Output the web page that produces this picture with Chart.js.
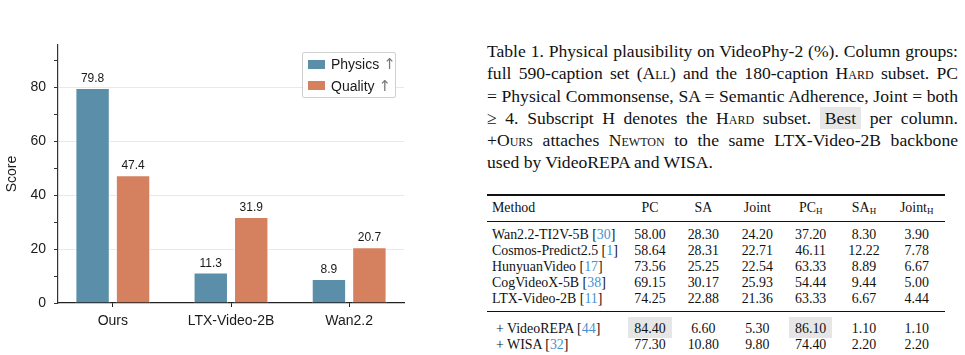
<!DOCTYPE html>
<html>
<head>
<meta charset="utf-8">
<script src="https://cdn.jsdelivr.net/npm/chart.js@4.4.1/dist/chart.umd.min.js"></script>
<style>
  body { margin: 0; background: #fff; width: 965px; height: 355px; position: relative; overflow: hidden; }
  #chartBox { position: absolute; left: 0; top: 0; width: 420px; height: 355px; }
  #legend { position: absolute; left: 302px; top: 52px; width: 92px; height: 44px; border: 1px solid #d0d0d0; border-radius: 2px; background: rgba(255,255,255,0.9); font: 14px "Liberation Sans", Arial, sans-serif; color: #1a1a1a; }
  .item { position: absolute; left: 5px; height: 18px; line-height: 18px; white-space: nowrap; }
  .sw { display: inline-block; width: 17px; height: 9px; vertical-align: middle; margin-right: 6px; position: relative; top: -1px; }
  .arr { color: #777; font: 15px "DejaVu Sans", sans-serif; }
  #caption { position: absolute; left: 487px; top: 40px; width: 471px; font: 17.6px "Liberation Serif", "Times New Roman", serif; color: #111; line-height: 22.3px; }
  .ln { text-align: justify; text-align-last: justify; white-space: nowrap; }
  .ln.last { text-align-last: left; }
  .sc { font-variant: small-caps; }
  .best { background: #e6e6e6; padding: 1px 5px; }
  #table { position: absolute; left: 0; top: 0; font: 13.9px "Liberation Serif", "Times New Roman", serif; color: #111; }
  .rule { position: absolute; left: 487px; width: 458px; background: #111; }
  .cell { position: absolute; height: 16px; line-height: 16px; white-space: nowrap; }
  .num { width: 60px; text-align: center; }
  .cite { color: #4a8fcf; }
  .hl { position: absolute; background: #e6e6e6; }
  sub { font-size: 9px; vertical-align: -2px; }
</style>
</head>
<body>
<div id="chartBox"><canvas id="grafico" width="420" height="355"></canvas></div>
<div id="legend"></div>
<div id="caption">
  <div class="ln">Table 1. Physical plausibility on VideoPhy-2 (%). Column groups:</div>
  <div class="ln">full 590-caption set (<span class="sc">All</span>) and the 180-caption <span class="sc">Hard</span> subset. PC</div>
  <div class="ln">= Physical Commonsense, SA = Semantic Adherence, Joint = both</div>
  <div class="ln">&ge; 4. Subscript H denotes the <span class="sc">Hard</span> subset. <span class="best">Best</span> per column.</div>
  <div class="ln">+<span class="sc">Ours</span> attaches <span class="sc">Newton</span> to the same LTX-Video-2B backbone</div>
  <div class="ln last">used by VideoREPA and WISA.</div>
</div>
<div id="table"></div>
<script>
// datos del grafico
const categorias = ['Ours', 'LTX-Video-2B', 'Wan2.2'];
const physics = [79.8, 11.3, 8.9];
const quality = [47.4, 31.9, 20.7];
const nombresSeries = ['Physics', 'Quality'];
const coloresSeries = ['#5b8fa9', '#d5805e'];

// datos de la tabla
const columnas = ['PC', 'SA', 'Joint', 'PC<sub>H</sub>', 'SA<sub>H</sub>', 'Joint<sub>H</sub>'];
const metodos = [
    ['Wan2.2-TI2V-5B', '30'],
    ['Cosmos-Predict2.5', '1'],
    ['HunyuanVideo', '17'],
    ['CogVideoX-5B', '38'],
    ['LTX-Video-2B', '11']
];
const valoresTabla = [
    ['58.00', '28.30', '24.20', '37.20', '8.30', '3.90'],
    ['58.64', '28.31', '22.71', '46.11', '12.22', '7.78'],
    ['73.56', '25.25', '22.54', '63.33', '8.89', '6.67'],
    ['69.15', '30.17', '25.93', '54.44', '9.44', '5.00'],
    ['74.25', '22.88', '21.36', '63.33', '6.67', '4.44']
];
const metodosExtra = [
    ['+ VideoREPA', '44'],
    ['+ WISA', '32']
];
const valoresExtra = [
    ['84.40', '6.60', '5.30', '86.10', '1.10', '1.10'],
    ['77.30', '10.80', '9.80', '74.40', '2.20', '2.20']
];
const mejores = [[0, 0], [0, 3]]; // fila extra, columna

function graficoBarras() {
    const ctx = document.getElementById('grafico');

    const etiquetasValor = {
        id: 'etiquetasValor',
        afterDatasetsDraw(chart) {
            const c = chart.ctx;
            c.save();
            c.font = '12px "Liberation Sans", Arial, sans-serif';
            c.fillStyle = '#1a1a1a';
            c.textAlign = 'center';
            c.textBaseline = 'alphabetic';
            chart.data.datasets.forEach((ds, i) => {
                chart.getDatasetMeta(i).data.forEach((bar, j) => {
                    c.fillText(ds.data[j].y.toFixed(1), bar.x, bar.y - 6);
                });
            });
            c.restore();
        }
    };

    const chart = new Chart(ctx, {
        type: 'bar',
        data: {
            datasets: [physics, quality].map((serie, k) => ({
                label: nombresSeries[k],
                data: serie.map((v, i) => ({ x: i, y: v })),
                backgroundColor: coloresSeries[k],
                borderColor: '#ffffff',
                borderWidth: 1,
                barPercentage: 0.85,
                categoryPercentage: 0.685
            }))
        },
        options: {
            responsive: false,
            animation: false,
            layout: { padding: { top: 45, right: 16, bottom: 0, left: 0 } },
            plugins: { legend: { display: false }, tooltip: { enabled: false } },
            scales: {
                x: {
                    type: 'linear',
                    min: -0.464,
                    max: 2.464,
                    offset: false,
                    afterBuildTicks: s => { s.ticks = categorias.map((c, i) => ({ value: i })); },
                    afterFit: s => { s.height = 52; },
                    ticks: {
                        callback: v => categorias[v],
                        font: { family: '"Liberation Sans", Arial, sans-serif', size: 14 },
                        color: '#1a1a1a',
                        padding: 6,
                        maxRotation: 0
                    },
                    grid: { drawOnChartArea: false, offset: false, tickLength: 4, tickColor: '#222' },
                    border: { color: '#222', width: 1.2 }
                },
                y: {
                    min: 0,
                    max: 95.8,
                    afterFit: s => { s.width = 58; },
                    ticks: {
                        stepSize: 10,
                        includeBounds: false,
                        callback: v => (v % 20 === 0 ? v : ''),
                        font: { family: '"Liberation Sans", Arial, sans-serif', size: 14 },
                        color: '#1a1a1a',
                        padding: 8
                    },
                    grid: {
                        color: c => (c.tick && c.tick.value % 20 === 0 && c.tick.value !== 0 ? '#e8e8e8' : 'rgba(0,0,0,0)'),
                        tickColor: '#333',
                        tickLength: 4,
                        lineWidth: 1
                    },
                    border: { color: '#333', width: 1.2 },
                    title: {
                        display: true,
                        text: 'Score',
                        font: { family: '"Liberation Sans", Arial, sans-serif', size: 14 },
                        color: '#1a1a1a',
                        padding: { top: 4, bottom: 0 }
                    }
                }
            }
        },
        plugins: [etiquetasValor]
    });

    // leyenda en html con las series del grafico
    const leyenda = document.getElementById('legend');
    chart.data.datasets.forEach((ds, i) => {
        const item = document.createElement('div');
        item.className = 'item';
        item.style.top = (2 + i * 21.7) + 'px';
        item.innerHTML = '<span class="sw" style="background:' + ds.backgroundColor + '"></span>' +
            ds.label + ' <span class="arr">&uarr;</span>';
        leyenda.appendChild(item);
    });
}

function tabla() {
    const t = document.getElementById('table');
    const centros = [650, 703.3, 757.3, 810.7, 864, 916.7];
    let html = '';
    const regla = (y, h) => { html += '<div class="rule" style="top:' + y + 'px;height:' + h + 'px"></div>'; };
    const celda = (x, y, txt, cls) => {
        html += '<div class="cell ' + (cls || '') + '" style="left:' + x + 'px;top:' + (y - 8) + 'px">' + txt + '</div>';
    };

    regla(194.3, 1.5);
    regla(221.2, 0.8);
    regla(311, 1);

    mejores.forEach(([f, c]) => {
        html += '<div class="hl" style="left:' + (centros[c] - 21.7) + 'px;top:316.7px;width:43.4px;height:21.6px"></div>';
    });

    celda(492, 208.3, 'Method');
    columnas.forEach((c, i) => celda(centros[i] - 30, 208.3, c, 'num'));

    metodos.forEach((m, r) => {
        const y = 234.7 + r * 16;
        celda(492, y, m[0] + ' [<span class="cite">' + m[1] + '</span>]');
        valoresTabla[r].forEach((v, i) => celda(centros[i] - 30, y, v, 'num'));
    });
    metodosExtra.forEach((m, r) => {
        const y = 328.6 + r * 16.4;
        celda(496, y, m[0] + ' [<span class="cite">' + m[1] + '</span>]');
        valoresExtra[r].forEach((v, i) => celda(centros[i] - 30, y, v, 'num'));
    });
    t.innerHTML = html;
}

graficoBarras();
tabla();
</script>
</body>
</html>
